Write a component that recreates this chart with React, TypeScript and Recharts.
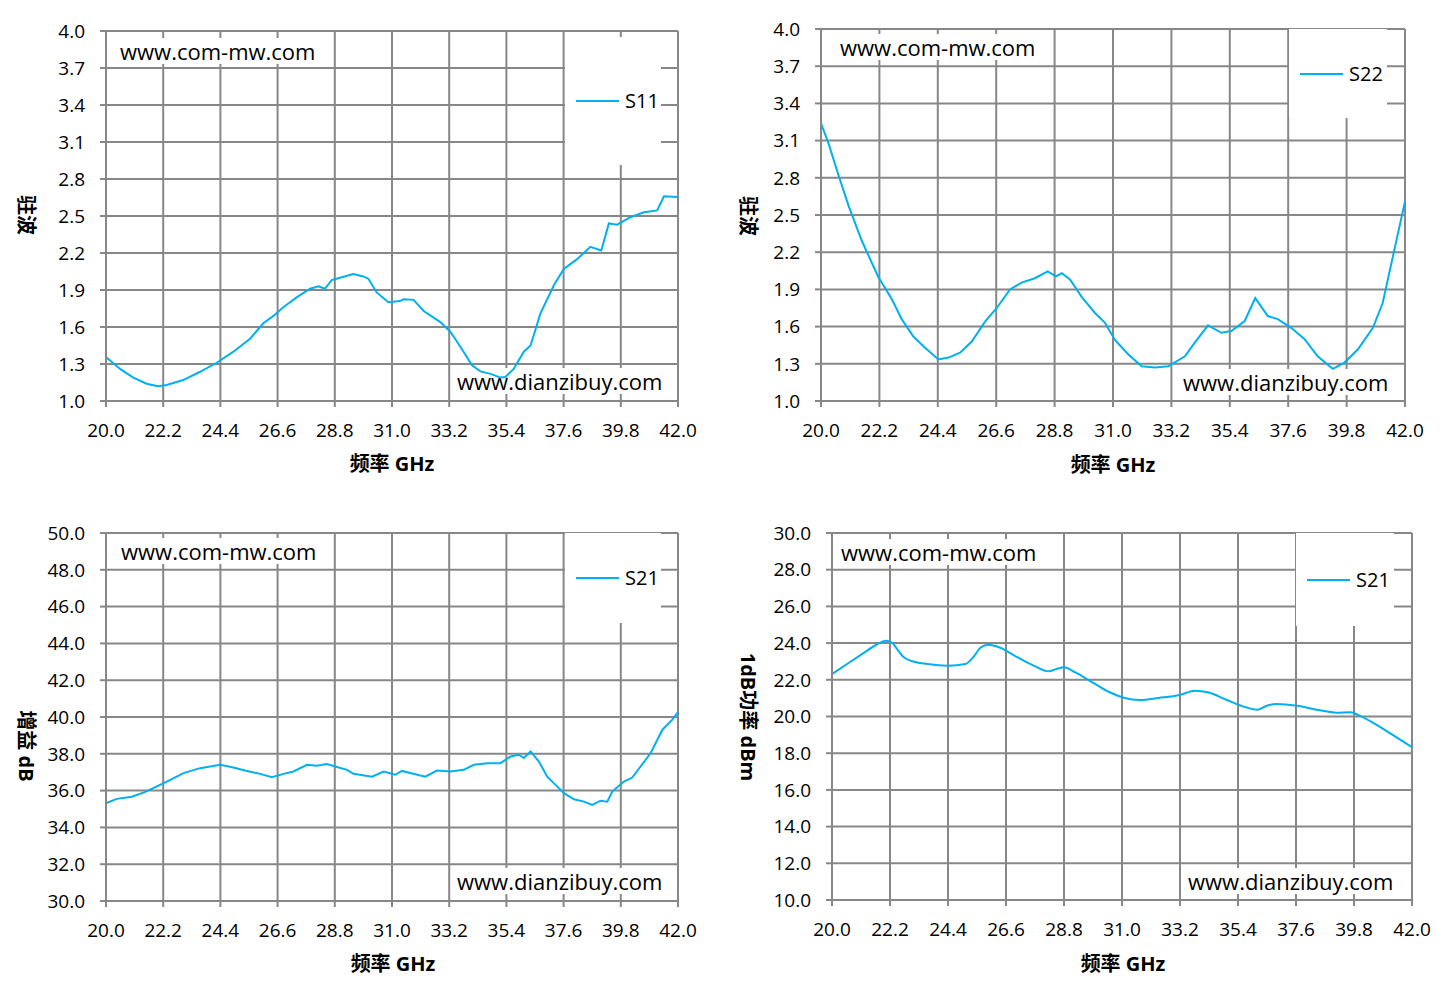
import React from 'react';
import { LineChart, Line, XAxis, YAxis, CartesianGrid, Legend } from 'recharts';

// ---------- tick labels ----------
const freqTicks = [20.0, 22.2, 24.4, 26.6, 28.8, 31.0, 33.2, 35.4, 37.6, 39.8, 42.0];
const vswrTicks = [1.0, 1.3, 1.6, 1.9, 2.2, 2.5, 2.8, 3.1, 3.4, 3.7, 4.0];
const gainTicks = [30, 32, 34, 36, 38, 40, 42, 44, 46, 48, 50];
const powerTicks = [10, 12, 14, 16, 18, 20, 22, 24, 26, 28, 30];

// ---------- S11 VSWR ----------
const s11Freq = [20.0, 20.54, 21.05, 21.56, 22.0, 22.33, 22.97, 23.6, 24.26, 24.9, 25.54, 26.05, 26.44, 26.82, 27.33, 27.85, 28.17, 28.42, 28.68, 29.0, 29.51, 29.9, 30.1, 30.41, 30.86, 31.3, 31.45, 31.83, 32.22, 32.86, 33.25, 33.63, 34.08, 34.4, 34.79, 35.17, 35.36, 35.68, 36.07, 36.33, 36.71, 37.23, 37.61, 38.12, 38.63, 39.05, 39.34, 39.66, 40.17, 40.69, 41.2, 41.46, 42.0];
const s11Vswr = [1.357, 1.26, 1.19, 1.14, 1.12, 1.13, 1.17, 1.235, 1.31, 1.40, 1.505, 1.63, 1.69, 1.76, 1.84, 1.91, 1.93, 1.91, 1.98, 2.0, 2.03, 2.01, 1.99, 1.88, 1.80, 1.81, 1.825, 1.82, 1.73, 1.64, 1.56, 1.44, 1.29, 1.24, 1.22, 1.19, 1.195, 1.26, 1.40, 1.45, 1.71, 1.94, 2.07, 2.15, 2.25, 2.22, 2.44, 2.43, 2.49, 2.53, 2.545, 2.66, 2.655];

// ---------- S22 VSWR ----------
const s22Freq = [20.0, 20.28, 20.66, 21.03, 21.54, 22.16, 22.67, 23.04, 23.48, 23.92, 24.42, 24.8, 25.24, 25.68, 26.18, 26.62, 27.12, 27.56, 28.06, 28.54, 28.85, 29.07, 29.38, 29.82, 30.32, 30.7, 31.08, 31.58, 32.08, 32.58, 33.08, 33.71, 34.08, 34.58, 35.08, 35.46, 35.96, 36.36, 36.83, 37.21, 37.71, 38.21, 38.71, 39.28, 39.72, 40.22, 40.79, 41.16, 41.6, 42.0];
const s22Vswr = [3.24, 3.08, 2.82, 2.58, 2.29, 2.0, 1.82, 1.66, 1.52, 1.43, 1.335, 1.35, 1.39, 1.48, 1.64, 1.75, 1.90, 1.955, 1.99, 2.045, 2.005, 2.03, 1.98, 1.84, 1.71, 1.63, 1.49, 1.375, 1.28, 1.27, 1.28, 1.36, 1.47, 1.61, 1.55, 1.565, 1.645, 1.83, 1.685, 1.66, 1.59, 1.50, 1.36, 1.26, 1.31, 1.415, 1.59, 1.79, 2.22, 2.61];

// ---------- S21 gain dB ----------
const gainFreq = [20.0, 20.41, 20.99, 21.44, 21.82, 22.34, 22.98, 23.62, 24.39, 24.9, 25.42, 25.93, 26.38, 26.83, 27.21, 27.73, 28.11, 28.5, 28.82, 29.27, 29.52, 30.23, 30.68, 31.13, 31.38, 31.9, 32.28, 32.73, 33.25, 33.76, 34.15, 34.66, 35.17, 35.56, 35.88, 36.07, 36.33, 36.65, 36.97, 37.29, 37.61, 38.0, 38.38, 38.7, 39.02, 39.28, 39.47, 39.92, 40.24, 40.56, 40.95, 41.4, 41.78, 42.0];
const gainDb = [35.31, 35.55, 35.67, 35.89, 36.13, 36.49, 36.95, 37.22, 37.40, 37.25, 37.07, 36.91, 36.73, 36.91, 37.04, 37.40, 37.35, 37.44, 37.31, 37.13, 36.91, 36.76, 37.04, 36.86, 37.07, 36.89, 36.76, 37.09, 37.04, 37.13, 37.40, 37.49, 37.49, 37.85, 37.95, 37.77, 38.13, 37.58, 36.76, 36.31, 35.86, 35.53, 35.40, 35.22, 35.45, 35.40, 35.95, 36.49, 36.71, 37.31, 38.04, 39.31, 39.86, 40.26];

// ---------- P1dB dBm ----------
const powerFreq = [20.0, 20.6, 21.18, 21.68, 22.04, 22.26, 22.47, 22.69, 22.98, 23.62, 24.41, 25.06, 25.35, 25.64, 25.92, 26.36, 26.93, 27.65, 28.22, 28.51, 28.8, 29.23, 29.81, 30.53, 31.1, 31.68, 32.39, 33.19, 33.76, 34.26, 34.98, 35.7, 36.13, 36.49, 36.85, 37.64, 38.43, 39.15, 39.66, 40.01, 40.59, 41.31, 42.0];
const powerDbm = [22.31, 22.89, 23.44, 23.91, 24.13, 24.04, 23.67, 23.27, 23.04, 22.86, 22.77, 22.86, 23.22, 23.76, 23.91, 23.76, 23.31, 22.77, 22.46, 22.59, 22.68, 22.40, 21.92, 21.32, 21.01, 20.90, 21.01, 21.17, 21.41, 21.32, 20.90, 20.50, 20.37, 20.59, 20.68, 20.59, 20.36, 20.21, 20.23, 20.05, 19.60, 18.96, 18.33];

const zip = (fs: number[], vs: number[]) => fs.map((f, i) => ({ f, v: vs[i] }));
const s11Data = zip(s11Freq, s11Vswr);
const s22Data = zip(s22Freq, s22Vswr);
const gainData = zip(gainFreq, gainDb);
const powerData = zip(powerFreq, powerDbm);

const GRID = '#878787';
const LINE = '#00B0F0';
const FONT = "'Open Sans', 'Noto Sans CJK SC', sans-serif";

type Box = { left: number; top: number; width: number; height: number };

const renderLegend = (props: any) => {
  const item = props && props.payload ? props.payload[0] : null;
  return (
    <div style={{ display: 'flex', alignItems: 'center', height: '100%', paddingLeft: 11, boxSizing: 'border-box' }}>
      <span style={{ display: 'inline-block', width: 43, height: 2, background: (item && item.color) || LINE }} />
      <span style={{ marginLeft: 6, fontSize: 20, fontFamily: FONT, color: '#000', lineHeight: 1 }}>{item ? item.value : ''}</span>
    </div>
  );
};

// watermark text box drawn inside the chart svg (above grid, below the curve)
function WatermarkSvg({ text, left, cy, w }: { text: string; left: number; cy: number; w: number }) {
  return (
    <g>
      <rect x={left - 4} y={cy - 13} width={w + 8} height={26} fill="#fff" />
      <text x={left} y={cy} dominantBaseline="central" fontFamily={FONT} fontSize={22} fill="#000">
        {text}
      </text>
    </g>
  );
}

function Title({ text, cx, cy, rotate }: { text: string; cx: number; cy: number; rotate?: boolean }) {
  return (
    <div
      style={{
        position: 'absolute', left: cx, top: cy,
        transform: `translate(-50%, -50%)${rotate ? ' rotate(90deg)' : ''}`,
        fontFamily: FONT, fontSize: 20, fontWeight: 700, lineHeight: 1, color: '#000', whiteSpace: 'nowrap',
      }}
    >
      {text}
    </div>
  );
}

type PanelProps = {
  left: number; top: number; width: number; height: number;
  margin: { top: number; right: number; bottom: number; left: number };
  data: { f: number; v: number }[];
  name: string;
  yDomain: [number, number];
  yTicks: number[];
  curve: 'linear' | 'monotone';
  legend: Box;
  yTitle: string; yTitleAt: [number, number];
  xTitleAt: [number, number];
  wmTop: [number, number]; wmBottom: [number, number];
};

function Panel(p: PanelProps) {
  return (
    <div style={{ position: 'absolute', left: p.left, top: p.top, width: p.width, height: p.height }}>
      <LineChart width={p.width} height={p.height} data={p.data} margin={p.margin}>
        <CartesianGrid stroke={GRID} strokeWidth={2} />
        <XAxis
          type="number" dataKey="f" domain={[20, 42]} ticks={freqTicks} interval={0} height={30}
          tickFormatter={(v: number) => v.toFixed(1)}
          axisLine={{ stroke: GRID, strokeWidth: 2 }} tickLine={{ stroke: GRID, strokeWidth: 2 }}
          tickSize={6} tickMargin={17}
          tick={{ fill: '#000', fontSize: 19, fontFamily: FONT }}
        />
        <YAxis
          type="number" domain={p.yDomain} ticks={p.yTicks} interval={0} width={60}
          tickFormatter={(v: number) => v.toFixed(1)}
          axisLine={{ stroke: GRID, strokeWidth: 2 }} tickLine={{ stroke: GRID, strokeWidth: 2 }}
          tickSize={6} tickMargin={15}
          tick={{ fill: '#000', fontSize: 19, fontFamily: FONT }}
        />
        <WatermarkSvg text="www.com-mw.com" left={p.wmTop[0]} cy={p.wmTop[1]} w={196} />
        <WatermarkSvg text="www.dianzibuy.com" left={p.wmBottom[0]} cy={p.wmBottom[1]} w={206} />
        <Line
          type={p.curve} dataKey="v" name={p.name} stroke={LINE} strokeWidth={2}
          dot={false} activeDot={false} isAnimationActive={false}
        />
        <Legend
          layout="horizontal" verticalAlign="middle" align="center"
          wrapperStyle={{ left: p.legend.left, top: p.legend.top, width: p.legend.width, height: p.legend.height, background: '#fff' }}
          content={renderLegend}
        />
      </LineChart>
      <Title text={p.yTitle} cx={p.yTitleAt[0]} cy={p.yTitleAt[1]} rotate />
      <Title text="频率 GHz" cx={p.xTitleAt[0]} cy={p.xTitleAt[1]} />
    </div>
  );
}

export default function App() {
  return (
    <div style={{ position: 'absolute', left: 0, top: 0, width: 1446, height: 998, background: '#fff', overflow: 'hidden' }}>
      <Panel
        left={0} top={0} width={720} height={490}
        margin={{ top: 31, right: 42, bottom: 59, left: 46 }}
        data={s11Data} name="S11" yDomain={[1, 4]} yTicks={vswrTicks} curve="linear"
        legend={{ left: 565, top: 37, width: 96, height: 128 }}
        yTitle="驻波" yTitleAt={[26, 215]} xTitleAt={[392, 464]}
        wmTop={[120, 51]} wmBottom={[457, 381]}
      />
      <Panel
        left={720} top={0} width={726} height={490}
        margin={{ top: 29, right: 41, bottom: 59, left: 41 }}
        data={s22Data} name="S22" yDomain={[1, 4]} yTicks={vswrTicks} curve="linear"
        legend={{ left: 569, top: 29, width: 98, height: 89 }}
        yTitle="驻波" yTitleAt={[28, 216]} xTitleAt={[393, 465]}
        wmTop={[120, 47]} wmBottom={[463, 382]}
      />
      <Panel
        left={0} top={500} width={720} height={498}
        margin={{ top: 33, right: 42, bottom: 67, left: 46 }}
        data={gainData} name="S21" yDomain={[30, 50]} yTicks={gainTicks} curve="linear"
        legend={{ left: 565, top: 33, width: 96, height: 90 }}
        yTitle="增益 dB" yTitleAt={[26, 246]} xTitleAt={[393, 464]}
        wmTop={[121, 51]} wmBottom={[457, 381]}
      />
      <Panel
        left={720} top={500} width={726} height={498}
        margin={{ top: 33, right: 34, bottom: 68, left: 52 }}
        data={powerData} name="S21" yDomain={[10, 30]} yTicks={powerTicks} curve="monotone"
        legend={{ left: 576, top: 33, width: 98, height: 93 }}
        yTitle="1dB功率 dBm" yTitleAt={[28, 217]} xTitleAt={[403, 464]}
        wmTop={[121, 52]} wmBottom={[468, 381]}
      />
    </div>
  );
}
